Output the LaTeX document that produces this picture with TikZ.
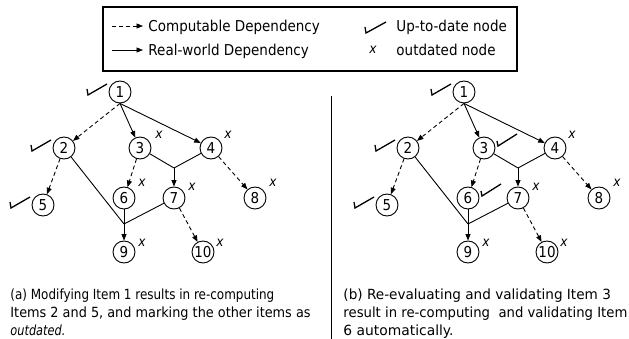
\documentclass[tikz,border=0pt]{standalone}
\usepackage{graphicx}
\usepackage{fontspec}
\setmainfont{DejaVu Sans}[FakeStretch=0.9]
\usetikzlibrary{arrows.meta}

% One dependency graph; #1 is the prefix of its node names
\newcommand\depgraph[1]{%
  \node[item] (#1n1)  at (120,92)  {1};
  \node[item] (#1n2)  at (64,148)  {2};
  \node[item] (#1n3)  at (140,148) {3};
  \node[item] (#1n4)  at (211,148) {4};
  \node[item] (#1n5)  at (43,205)  {5};
  \node[item] (#1n6)  at (124,198) {6};
  \node[item] (#1n7)  at (174,198) {7};
  \node[item] (#1n8)  at (255,198) {8};
  \node[item] (#1n9)  at (124,252) {9};
  \node[item] (#1n10) at (203,252) {10};
  \coordinate (#1j1) at (174,168);
  \coordinate (#1j2) at (124,224);
  \draw[cdep] (#1n1.south) -- (#1n2);
  \draw[rdep] (#1n1.south) -- (#1n3);
  \draw[rdep] (#1n1.south) -- (#1n4);
  \draw[cdep] (#1n2) -- (#1n5);
  \draw[cdep] (#1n3) -- (#1n6);
  \draw[link] (#1n3) -- (#1j1);
  \draw[link] (#1n4) -- (#1j1);
  \draw[rdep] (#1j1) -- (#1n7);
  \draw[cdep] (#1n4) -- (#1n8);
  \draw[link] (#1n2) -- (#1j2);
  \draw[link] (#1n7) -- (#1j2);
  \draw[link] (#1n6) -- (#1j2);
  \draw[rdep] (#1j2) -- (#1n9);
  \draw[cdep] (#1n7) -- (#1n10);
}
% tick to the left of a node
\newcommand\tickleft[1]{\draw[tick, shift={(#1)}] (-33,-3) -- (-32,3) -- (-13,-8);}
% tick to the right of a node
\newcommand\tickright[1]{\draw[tick, shift={(#1)}] (13,-7) -- (14,-2) -- (33,-14);}
% outdated mark: node, name, offset
\newcommand\outmark[3]{\path[shift={(#1)}] (#3) node[outx] (#2) {x};}
% caption line, stretched horizontally by #1
\newcommand\capline[2]{\scalebox{#1}[1]{#2}}

\begin{document}
\begin{tikzpicture}[x=1pt,y=-1pt,
  font=\fontsize{15}{18}\selectfont,
  line width=0.9pt,
  item/.style={circle, draw, line width=0.9pt, minimum size=22pt, inner sep=0pt},
  link/.style={line width=0.9pt},
  rdep/.style={link, -{Triangle[length=6.5pt,width=5pt]}},
  cdep/.style={rdep, dash pattern=on 4pt off 3pt},
  tick/.style={line width=1.3pt, line join=miter},
  outx/.style={font=\fontsize{13.5}{13.5}\selectfont\itshape, inner sep=0pt},
  caption/.style={anchor=base west, align=left, inner sep=0pt,
    font=\fontsize{14}{18}\selectfont}]
\useasboundingbox (0,0) rectangle (629,339);

% legend
\node[draw, line width=1.1pt, minimum width=414pt, minimum height=64pt, inner sep=0pt]
  (legend) at (310,39) {};
\coordinate (lc0) at (112,26);
\coordinate (lc1) at (143,26);
\coordinate (lr0) at (112,50);
\coordinate (lr1) at (143,50);
\draw[cdep] (lc0) -- (lc1);
\draw[rdep] (lr0) -- (lr1);
\node[anchor=base west, inner sep=0pt] (lctext) at (148,32) {Computable Dependency};
\node[anchor=base west, inner sep=0pt] (lrtext) at (148,56) {Real-world Dependency};
\draw[tick] (365,27) -- (366,33) -- (386,22);
\node[outx] (lx) at (373,50) {x};
\node[anchor=base west, inner sep=0pt] (lutext) at (396,32) {Up-to-date node};
\node[anchor=base west, inner sep=0pt] (lotext) at (396,56) {outdated node};

% (a) after modifying item 1
\depgraph{a}
\tickleft{an1}
\tickleft{an2}
\tickleft{an5}
\outmark{an3}{ax3}{19,-13}
\outmark{an4}{ax4}{17,-13}
\outmark{an6}{ax6}{18,-15}
\outmark{an7}{ax7}{18,-11}
\outmark{an8}{ax8}{18,-15}
\outmark{an9}{ax9}{18,-9}
\outmark{an10}{ax10}{17,-9}

% (b) after re-evaluating item 3
\begin{scope}[xshift=344pt]
\depgraph{b}
\end{scope}
\tickleft{bn1}
\tickleft{bn2}
\tickleft{bn5}
\tickright{bn3}
\tickright{bn6}
\outmark{bn4}{bx4}{17,-13}
\outmark{bn7}{bx7}{18,-11}
\outmark{bn8}{bx8}{18,-15}
\outmark{bn9}{bx9}{18,-9}
\outmark{bn10}{bx10}{17,-9}

% divider between the two panels
\coordinate (dtop) at (331.7,96);
\coordinate (dbot) at (331.7,339);
\draw[line width=1pt] (dtop) -- (dbot);

% captions (base anchor sits on the last line)
\node[caption] (capa) at (10,335.5)
  {\capline{0.95}{(a) Modifying Item 1 results in re-computing}\\
   \capline{1.02}{Items 2 and 5, and marking the other items as}\\
   \capline{0.9}{\textit{outdated.}}};
\node[caption] (capb) at (343,335.5)
  {\capline{1.08}{(b) Re-evaluating and validating Item 3}\\
   \capline{1.05}{result in re-computing\ \ and validating Item}\\
   \capline{1.1}{6 automatically.}};
\end{tikzpicture}
\end{document}
